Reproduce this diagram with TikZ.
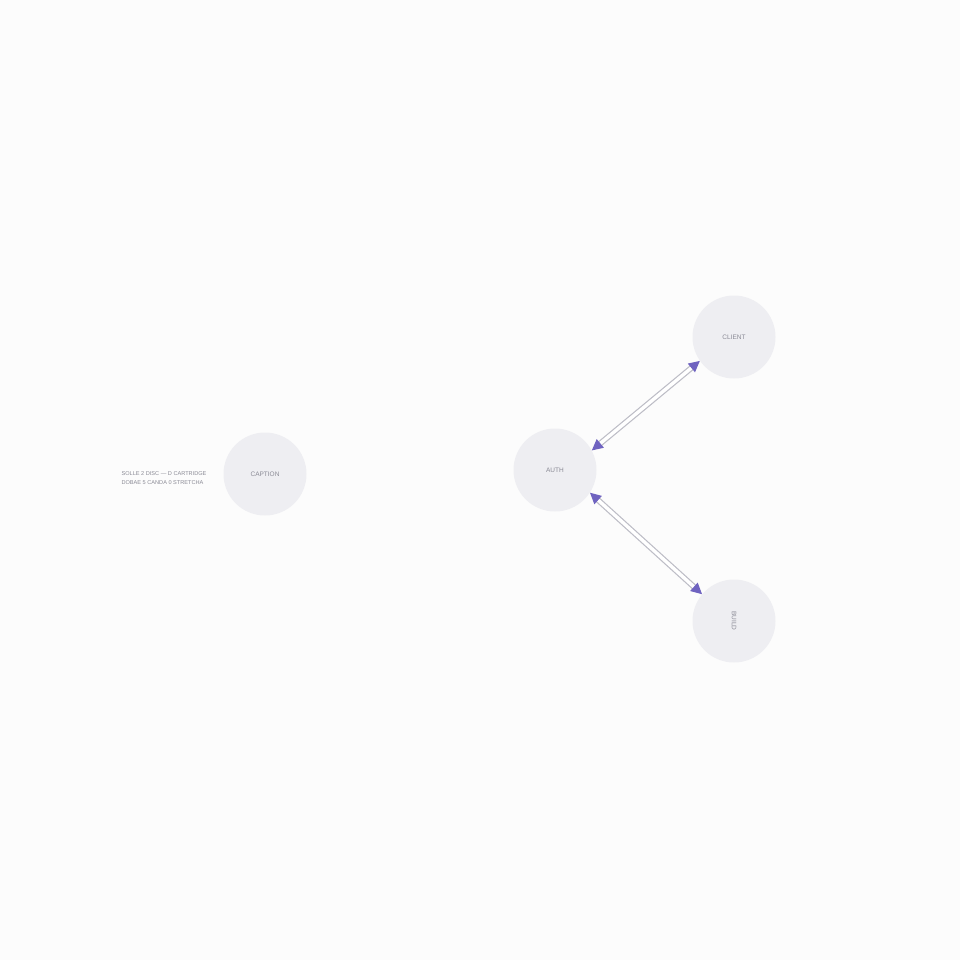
\documentclass[tikz,border=0pt]{standalone}
\usepackage{fontspec}
\setmainfont{Liberation Sans}
\usetikzlibrary{arrows.meta}
\definecolor{nodefill}{HTML}{EEEEF2}
\definecolor{txt}{HTML}{8A8A95}
\definecolor{tip}{HTML}{6F63C0}
\definecolor{wire}{HTML}{BDBDC6}
\tikzset{
  circ/.style={circle, fill=nodefill, minimum size=83pt, inner sep=0pt, text=txt, font=\fontsize{6.5}{7}\selectfont},
  conn/.style={draw=wire, line width=1.2pt, double=white, double distance=3.4pt,
    {Triangle[length=11pt,width=11pt,fill=tip,color=tip]}-{Triangle[length=11pt,width=11pt,fill=tip,color=tip]}},
  captext/.style={text=txt, font=\fontsize{5.6}{9}\selectfont, align=left}
}
\begin{document}
\begin{tikzpicture}[x=1pt,y=-1pt]
\fill[white!98!gray] (0,0) rectangle (960,960);
\useasboundingbox (0,0) rectangle (960,960);
\node[circ] (caption) at (265,474) {CAPTION};
\node[circ] (auth) at (555,470) {AUTH};
\node[circ] (client) at (734,337) {CLIENT};
\node[circ] (build) at (734,621) {\rotatebox{-90}{BUILD}};
\node[captext] (note) at (164,478) {SOLLE 2 DISC — D CARTRIDGE\\DOBAE 5 CANDA 0 STRETCHA};
\draw[conn] (auth.28) -- (client.215);
\draw[conn] (auth.-33) -- (build.140);
\end{tikzpicture}
\end{document}
